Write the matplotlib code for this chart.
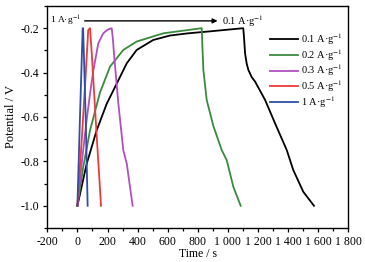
import matplotlib
matplotlib.use("Agg")
import matplotlib.pyplot as plt
from matplotlib.ticker import MultipleLocator

plt.rcParams['font.family'] = ['Liberation Serif', 'DejaVu Serif']
plt.rcParams['mathtext.fontset'] = 'stix'

labels = ["0.1 A·g$^{-1}$", "0.2 A·g$^{-1}$", "0.3 A·g$^{-1}$", "0.5 A·g$^{-1}$", "1 A·g$^{-1}$"]
colors = ["#000000", "#3a8a3e", "#b04fc0", "#ee3a3a", "#2e4fa8"]

t_01 = [0, 62, 128, 195, 261, 328, 394, 504, 615, 737, 900, 1102,
        1108, 1114, 1125, 1136, 1158, 1180, 1247, 1313, 1391, 1435, 1501, 1572]
v_01 = [-1.0, -0.81, -0.66, -0.54, -0.45, -0.358, -0.298, -0.253, -0.233, -0.223, -0.213, -0.2,
        -0.25, -0.313, -0.36, -0.388, -0.42, -0.44, -0.523, -0.628, -0.749, -0.84, -0.937, -1.0]

t_02 = [0, 39, 84, 150, 217, 305, 394, 571, 737, 826,
        831, 837, 859, 903, 959, 992, 1036, 1085]
v_02 = [-1.0, -0.824, -0.66, -0.49, -0.373, -0.298, -0.26, -0.223, -0.208, -0.2,
        -0.29, -0.388, -0.523, -0.64, -0.749, -0.794, -0.914, -1.0]

t_03 = [0, 30, 62, 85, 106, 139, 172, 200, 228,
        236, 243, 258, 272, 305, 328, 367]
v_03 = [-1.0, -0.8, -0.61, -0.49, -0.39, -0.268, -0.223, -0.207, -0.2,
        -0.25, -0.313, -0.43, -0.538, -0.75, -0.81, -1.0]

t_05 = [0, 30, 55, 72, 84, 95, 125, 157]
v_05 = [-1.0, -0.69, -0.41, -0.208, -0.2, -0.31, -0.65, -1.0]

t_1 = [0, 18, 35, 38, 55, 68]
v_1 = [-1.0, -0.58, -0.2, -0.2, -0.6, -1.0]

series = [(t_01, v_01), (t_02, v_02), (t_03, v_03), (t_05, v_05), (t_1, v_1)]

xticks = [-200, 0, 200, 400, 600, 800, 1000, 1200, 1400, 1600, 1800]
xtick_labels = ["-200", "0", "200", "400", "600", "800", "1 000", "1 200", "1 400", "1 600", "1 800"]
yticks = [-1.0, -0.8, -0.6, -0.4, -0.2]

fig = plt.figure(figsize=(3.65, 2.62), dpi=100)
ax = fig.add_axes([47.3 / 365, 1 - 228 / 262, 301 / 365, 222 / 262])

for (t, v), c, lab in zip(series, colors, labels):
    ax.plot(t, v, color=c, lw=1.3, label=lab)

ax.set_xlim(-200, 1800)
ax.set_ylim(-1.1, -0.1)
ax.set_xticks(xticks)
ax.set_xticklabels(xtick_labels)
ax.set_yticks(yticks)
ax.set_yticklabels([f"{y:.1f}" for y in yticks])
ax.xaxis.set_minor_locator(MultipleLocator(100))
ax.yaxis.set_minor_locator(MultipleLocator(0.1))
ax.tick_params(which='major', direction='out', length=3, width=0.9, labelsize=8.5, pad=2.5)
ax.tick_params(which='minor', direction='out', length=2, width=0.9)
for s in ax.spines.values():
    s.set_linewidth(1.0)

ax.set_xlabel("Time / s", fontsize=8.5, labelpad=0)
ax.set_ylabel("Potential / V", fontsize=9, labelpad=3)

ax.annotate("", xy=(950, -0.167), xytext=(30, -0.167),
            arrowprops=dict(arrowstyle="-|>", color="black", lw=1.0, mutation_scale=7))
ax.text(28, -0.167, "1 A·g$^{-1}$", ha="right", va="center", fontsize=6.8)
ax.text(958, -0.167, "0.1 A·g$^{-1}$", ha="left", va="center", fontsize=7.5)

ax.legend(loc="upper left", bbox_to_anchor=(0.74, 0.885), frameon=False, fontsize=7.5,
          handlelength=2.7, handletextpad=0.3, labelspacing=0.0, borderaxespad=0,
          borderpad=0)

fig.savefig("out.png", dpi=100)
